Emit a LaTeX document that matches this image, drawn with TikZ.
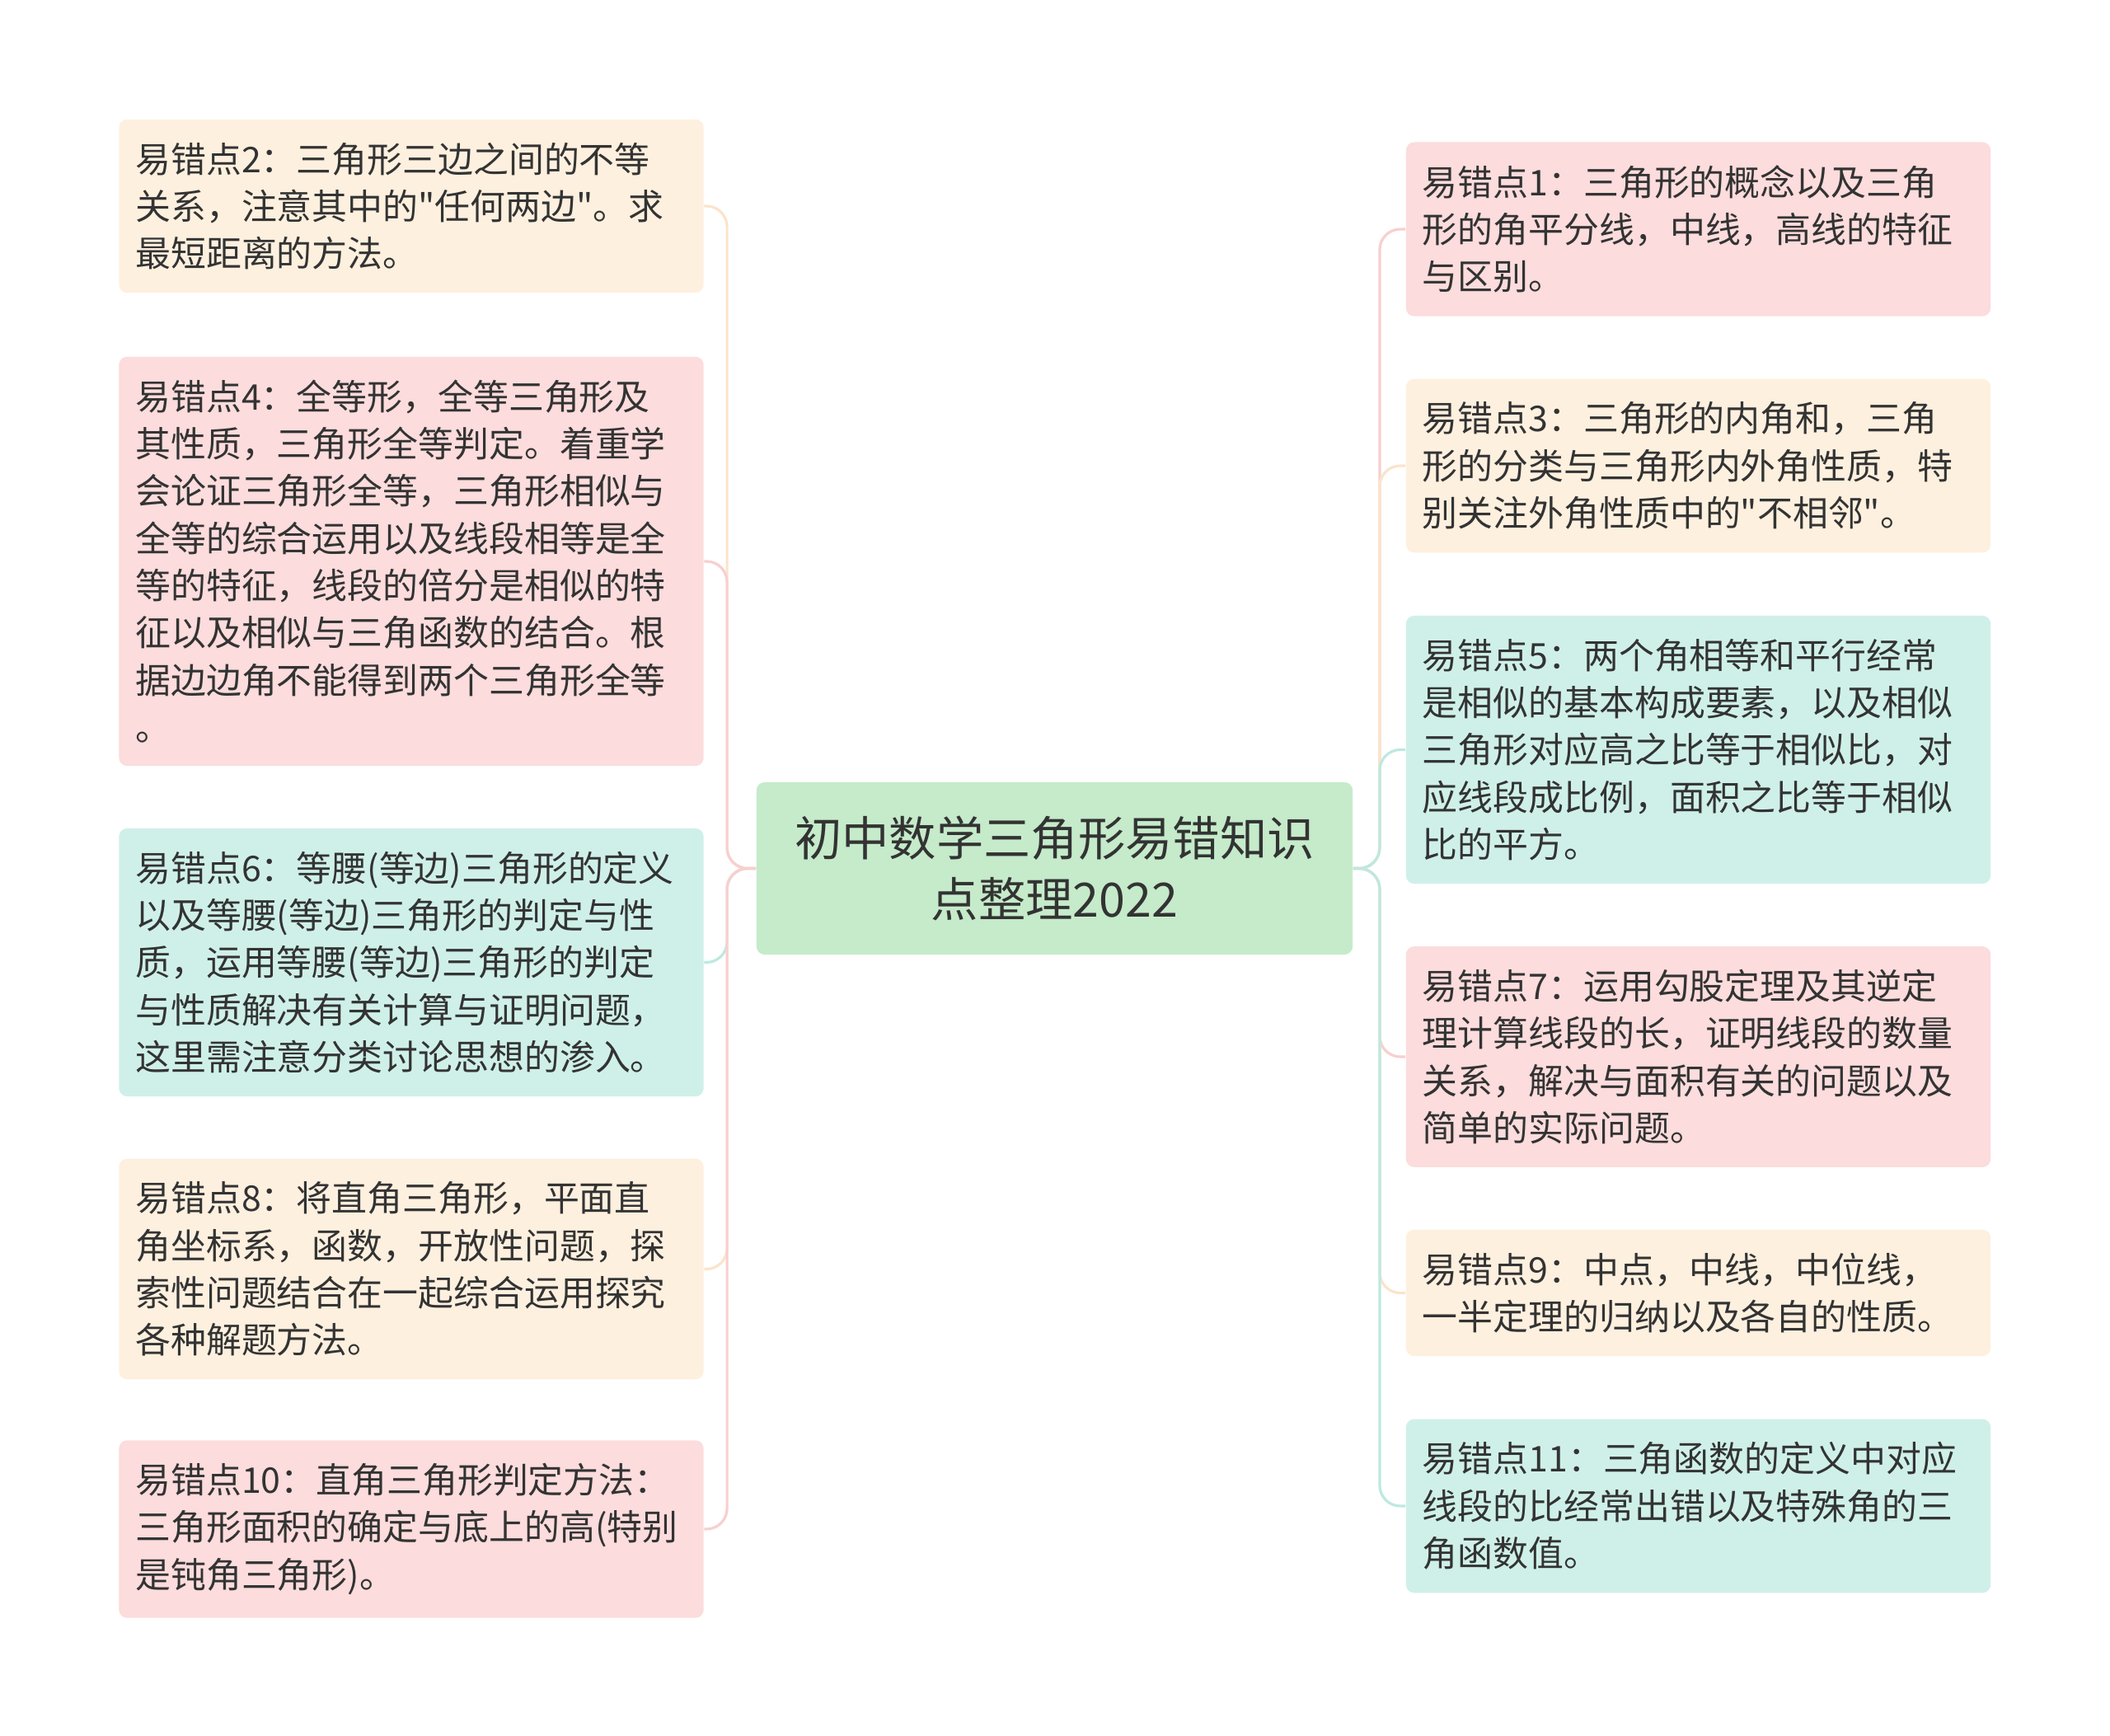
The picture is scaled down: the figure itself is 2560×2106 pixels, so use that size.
\documentclass[tikz,border=0pt]{standalone}
\usepackage{fontspec}
\setmainfont{Noto Sans CJK SC}[Ligatures=TeXOff]
\usepackage{tikz}
\usetikzlibrary{positioning}
\definecolor{inktext}{HTML}{333333}
\definecolor{hubfill}{HTML}{C5EBCA}
\definecolor{peachfill}{HTML}{FEF0DF}
\definecolor{peachline}{HTML}{FBE4CA}
\definecolor{pinkfill}{HTML}{FCDCDC}
\definecolor{pinkline}{HTML}{F8CFCF}
\definecolor{mintfill}{HTML}{CFF0E9}
\definecolor{mintline}{HTML}{BCE9E0}
\tikzset{
  hubnode/.style = {font=\fontsize{16.3pt}{20.9pt}\selectfont, align=center,
                    text=inktext, fill=hubfill, rounded corners=1mm,
                    minimum width=7.23cm, minimum height=2.09cm, inner sep=0pt},
  tipbox/.style  = {font=\fontsize{12.2pt}{16.3pt}\selectfont, align=left,
                    text=inktext, rounded corners=1mm, text width=6.69cm,
                    inner xsep=0.2cm, inner ysep=0.28cm},
  tippeach/.style = {tipbox, fill=peachfill},
  tippink/.style  = {tipbox, fill=pinkfill},
  tipmint/.style  = {tipbox, fill=mintfill},
  branch/.style  = {line width=0.9pt, rounded corners=0.25cm},
}
\begin{document}
\begin{tikzpicture}[x=0.01cm, y=-0.01cm]
  \fill[white] (0,0) rectangle (2560,2106);

  % central topic
  \node[hubnode] (hub) at (1279.5,1053.5) {初中数学三角形易错知识\\点整理2022};

  % left column
  \node[tippeach] (e2) at (499,250)
       {易错点2：三角形三边之间的不等\\关系，注意其中的"任何两边"。求\\最短距离的方法。};
  \node[tippink] (e4) at (499,681)
       {易错点4：全等形，全等三角形及\\其性质，三角形全等判定。着重学\\会论证三角形全等，三角形相似与\\全等的综合运用以及线段相等是全\\等的特征，线段的倍分是相似的特\\征以及相似与三角函数的结合。根\\据边边角不能得到两个三角形全等\\。};
  \node[tipmint] (e6) at (499,1167.5)
       {易错点6：等腰(等边)三角形的定义\\以及等腰(等边)三角形的判定与性\\质，运用等腰(等边)三角形的判定\\与性质解决有关计算与证明问题，\\这里需注意分类讨论思想的渗入。};
  \node[tippeach] (e8) at (499,1539.5)
       {易错点8：将直角三角形，平面直\\角坐标系，函数，开放性问题，探\\索性问题结合在一起综合运用探究\\各种解题方法。};
  \node[tippink] (e10) at (499,1855)
       {易错点10：直角三角形判定方法：\\三角形面积的确定与底上的高(特别\\是钝角三角形)。};

  % right column
  \node[tippink] (e1) at (2060.5,278)
       {易错点1：三角形的概念以及三角\\形的角平分线，中线，高线的特征\\与区别。};
  \node[tippeach] (e3) at (2060.5,565)
       {易错点3：三角形的内角和，三角\\形的分类与三角形内外角性质，特\\别关注外角性质中的"不相邻"。};
  \node[tipmint] (e5) at (2060.5,909.5)
       {易错点5：两个角相等和平行经常\\是相似的基本构成要素，以及相似\\三角形对应高之比等于相似比，对\\应线段成比例，面积之比等于相似\\比的平方。};
  \node[tippink] (e7) at (2060.5,1282)
       {易错点7：运用勾股定理及其逆定\\理计算线段的长，证明线段的数量\\关系，解决与面积有关的问题以及\\简单的实际问题。};
  \node[tippeach] (e9) at (2060.5,1568.5)
       {易错点9：中点，中线，中位线，\\一半定理的归纳以及各自的性质。};
  \node[tipmint] (e11) at (2060.5,1827)
       {易错点11：三角函数的定义中对应\\线段的比经常出错以及特殊角的三\\角函数值。};

  % branches
  \draw[branch, draw=peachline] (hub.west) -- ++(-35,0) |- (e2.east);
  \draw[branch, draw=pinkline]  (hub.west) -- ++(-35,0) |- (e4.east);
  \draw[branch, draw=mintline]  (hub.west) -- ++(-35,0) |- (e6.east);
  \draw[branch, draw=peachline] (hub.west) -- ++(-35,0) |- (e8.east);
  \draw[branch, draw=pinkline]  (hub.west) -- ++(-35,0) |- (e10.east);

  \draw[branch, draw=pinkline]  (hub.east) -- ++(32,0) |- (e1.west);
  \draw[branch, draw=peachline] (hub.east) -- ++(32,0) |- (e3.west);
  \draw[branch, draw=mintline]  (hub.east) -- ++(32,0) |- (e5.west);
  \draw[branch, draw=pinkline]  (hub.east) -- ++(32,0) |- (e7.west);
  \draw[branch, draw=peachline] (hub.east) -- ++(32,0) |- (e9.west);
  \draw[branch, draw=mintline]  (hub.east) -- ++(32,0) |- (e11.west);
\end{tikzpicture}
\end{document}
